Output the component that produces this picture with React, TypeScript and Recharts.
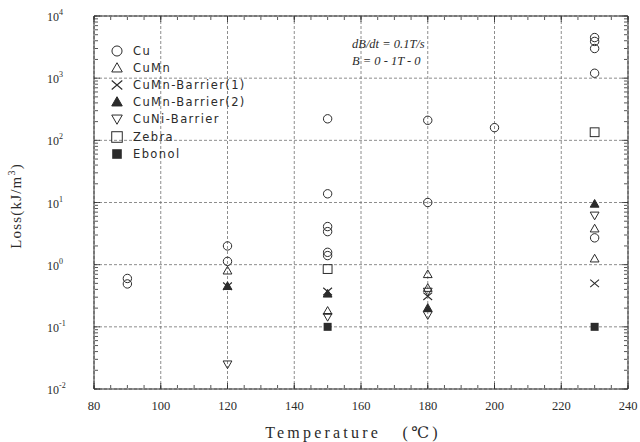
import React from "react";
import { CartesianGrid, Label, Legend, Scatter, ScatterChart, XAxis, YAxis } from "recharts";

const INK = "#2b2b2b";
const GRID = "#707070";
const SERIF = "'Liberation Serif', 'DejaVu Serif', serif";
const SANS = "'DejaVu Sans', 'Liberation Sans', sans-serif";

const X_TICKS = [80, 100, 120, 140, 160, 180, 200, 220, 240];
const Y_TICKS = [0.01, 0.1, 1, 10, 100, 1000, 10000];
const Y_EXPONENTS = ["-2", "-1", "0", "1", "2", "3", "4"];

// minor ticks: every 5 degrees, 2..9 inside each decade
const X_MINOR: number[] = [];
for (let t = 80; t <= 240; t += 5) X_MINOR.push(t);
const Y_MINOR: number[] = [];
Y_TICKS.slice(0, -1).forEach((d) => {
  for (let k = 2; k <= 9; k++) Y_MINOR.push(+(d * k).toPrecision(3));
});

const cu = [
  { x: 90, y: 0.6 },
  { x: 90, y: 0.49 },
  { x: 120, y: 2.0 },
  { x: 120, y: 1.13 },
  { x: 150, y: 222 },
  { x: 150, y: 13.8 },
  { x: 150, y: 4.1 },
  { x: 150, y: 3.4 },
  { x: 150, y: 1.58 },
  { x: 150, y: 1.4 },
  { x: 180, y: 210 },
  { x: 180, y: 10 },
  { x: 200, y: 160 },
  { x: 230, y: 4500 },
  { x: 230, y: 3900 },
  { x: 230, y: 3000 },
  { x: 230, y: 1200 },
  { x: 230, y: 2.7 },
];
const cuMn = [
  { x: 120, y: 0.8 },
  { x: 150, y: 0.18 },
  { x: 180, y: 0.7 },
  { x: 180, y: 0.42 },
  { x: 230, y: 3.8 },
  { x: 230, y: 1.25 },
];
const cuMnBarrier1 = [
  { x: 120, y: 0.45 },
  { x: 150, y: 0.37 },
  { x: 180, y: 0.31 },
  { x: 230, y: 0.5 },
];
const cuMnBarrier2 = [
  { x: 120, y: 0.45 },
  { x: 150, y: 0.34 },
  { x: 180, y: 0.2 },
  { x: 230, y: 9.5 },
];
const cuNiBarrier = [
  { x: 120, y: 0.025 },
  { x: 150, y: 0.145 },
  { x: 180, y: 0.37 },
  { x: 180, y: 0.155 },
  { x: 230, y: 6.2 },
];
const zebra = [
  { x: 150, y: 0.85 },
  { x: 230, y: 135 },
];
const ebonol = [
  { x: 150, y: 0.1 },
  { x: 230, y: 0.1 },
];

type Kind = "circle" | "tri" | "cross" | "triFill" | "triDown" | "square" | "squareFill";

const SERIES: { name: string; kind: Kind; data: { x: number; y: number }[] }[] = [
  { name: "Cu", kind: "circle", data: cu },
  { name: "CuMn", kind: "tri", data: cuMn },
  { name: "CuMn-Barrier(1)", kind: "cross", data: cuMnBarrier1 },
  { name: "CuMn-Barrier(2)", kind: "triFill", data: cuMnBarrier2 },
  { name: "CuNi-Barrier", kind: "triDown", data: cuNiBarrier },
  { name: "Zebra", kind: "square", data: zebra },
  { name: "Ebonol", kind: "squareFill", data: ebonol },
];

function Marker({ kind, cx, cy, s = 1 }: { kind: Kind; cx: number; cy: number; s?: number }) {
  const line = { stroke: INK, strokeWidth: 1, fill: "none" };
  const h = 4.4 * s;
  switch (kind) {
    case "circle":
      return <circle cx={cx} cy={cy} r={4.2 * s} {...line} />;
    case "tri":
      return <path d={`M${cx},${cy - h}L${cx + h},${cy + h * 0.75}L${cx - h},${cy + h * 0.75}Z`} {...line} />;
    case "triFill":
      return (
        <path
          d={`M${cx},${cy - h}L${cx + h},${cy + h * 0.75}L${cx - h},${cy + h * 0.75}Z`}
          fill={INK}
          stroke={INK}
        />
      );
    case "triDown":
      return <path d={`M${cx},${cy + h}L${cx + h},${cy - h * 0.75}L${cx - h},${cy - h * 0.75}Z`} {...line} />;
    case "cross":
      return (
        <path
          d={`M${cx - h},${cy - h * 0.85}L${cx + h},${cy + h * 0.85}M${cx + h},${cy - h * 0.85}L${cx - h},${cy + h * 0.85}`}
          {...line}
          strokeWidth={1.1}
        />
      );
    case "square":
      return <rect x={cx - h} y={cy - h} width={2 * h} height={2 * h} {...line} />;
    case "squareFill":
      return <rect x={cx - 4 * s} y={cy - 4 * s} width={8 * s} height={8 * s} fill={INK} />;
  }
  return null;
}

function YTick({ x, y, payload }: any) {
  const i = Y_TICKS.indexOf(payload.value);
  return (
    <text x={x - 39} y={y + 5} fill={INK} fontFamily={SERIF} fontSize={12}>
      10
      <tspan dy={-6} fontSize={8}>
        {Y_EXPONENTS[i]}
      </tspan>
    </text>
  );
}

function LegendBox() {
  return (
    <div style={{ display: "flex", flexDirection: "column" }}>
      {SERIES.map((s) => (
        <div key={s.name} style={{ height: 17.2, display: "flex", alignItems: "center" }}>
          <svg width={24} height={16} style={{ flex: "none" }}>
            <Marker kind={s.kind} cx={9} cy={8} s={1.2} />
          </svg>
          <span
            style={{
              fontFamily: SANS,
              fontSize: 11.5,
              letterSpacing: 1.4,
              color: INK,
              marginLeft: 1,
              whiteSpace: "nowrap",
            }}
          >
            {s.name}
          </span>
        </div>
      ))}
    </div>
  );
}

// mirrored 1px axes that only draw the inward tick marks and the top/right frame
const noLabel = () => <g />;
const frameAxes: { id: string; ticks: number[]; size: number }[] = [
  { id: "minor", ticks: X_MINOR, size: 3 },
  { id: "major", ticks: X_TICKS, size: 6 },
];
const frameAxesY: { id: string; ticks: number[]; size: number }[] = [
  { id: "minor", ticks: Y_MINOR, size: 3 },
  { id: "major", ticks: Y_TICKS, size: 6 },
];

export default function App() {
  const tickMark = { stroke: INK, strokeWidth: 0.8 };
  return (
    <div style={{ position: "fixed", left: 0, top: 0, width: 640, height: 442, background: "#fff" }}>
      <ScatterChart width={640} height={442} margin={{ top: 16, right: 12, bottom: 0, left: 0 }}>
        <CartesianGrid
          xAxisId="main"
          yAxisId="main"
          stroke={GRID}
          strokeDasharray="3 2"
          strokeWidth={0.8}
        />
        <XAxis
          xAxisId="main"
          dataKey="x"
          type="number"
          domain={[80, 240]}
          ticks={X_TICKS}
          interval={0}
          height={53}
          tickLine={false}
          tickMargin={6}
          axisLine={{ stroke: INK }}
          tick={{ fill: INK, fontFamily: SERIF, fontSize: 12.5 }}
          allowDataOverflow
        >
          <Label
            content={() => (
              <text
                x={353}
                y={438}
                textAnchor="middle"
                fill={INK}
                fontFamily={SERIF}
                fontSize={16}
                letterSpacing={3.2}
                style={{ whiteSpace: "pre" }}
              >
                {"Temperature   (℃)"}
              </text>
            )}
          />
        </XAxis>
        <YAxis
          yAxisId="main"
          dataKey="y"
          type="number"
          scale="log"
          domain={[0.01, 10000]}
          ticks={Y_TICKS}
          interval={0}
          width={94}
          tickLine={false}
          axisLine={{ stroke: INK }}
          tick={<YTick />}
          allowDataOverflow
        >
          <Label
            content={() => (
              <text
                x={21}
                y={206}
                transform="rotate(-90 21 206)"
                textAnchor="middle"
                fill={INK}
                fontFamily={SERIF}
                fontSize={15}
                letterSpacing={1.2}
              >
                Loss(kJ/m
                <tspan dy={-6} fontSize={10}>3</tspan>
                <tspan dy={6}>)</tspan>
              </text>
            )}
          />
        </YAxis>

        {frameAxes.map((a) => (
          <XAxis key={"b" + a.id} xAxisId={"b" + a.id} dataKey="x" type="number" domain={[80, 240]} ticks={a.ticks}
            interval={0} mirror height={1} tick={noLabel} tickSize={a.size} axisLine={false} tickLine={tickMark}
            allowDataOverflow />
        ))}
        {frameAxes.map((a) => (
          <XAxis key={"t" + a.id} xAxisId={"t" + a.id} orientation="top" dataKey="x" type="number" domain={[80, 240]}
            ticks={a.ticks} interval={0} mirror height={1} tick={noLabel} tickSize={a.size}
            axisLine={a.id === "major" ? { stroke: INK } : false} tickLine={tickMark} allowDataOverflow />
        ))}
        {frameAxesY.map((a) => (
          <YAxis key={"l" + a.id} yAxisId={"l" + a.id} dataKey="y" type="number" scale="log" domain={[0.01, 10000]}
            ticks={a.ticks} interval={0} mirror width={1} tick={noLabel} tickSize={a.size} axisLine={false}
            tickLine={tickMark} allowDataOverflow />
        ))}
        {frameAxesY.map((a) => (
          <YAxis key={"r" + a.id} yAxisId={"r" + a.id} orientation="right" dataKey="y" type="number" scale="log"
            domain={[0.01, 10000]} ticks={a.ticks} interval={0} mirror width={1} tick={noLabel} tickSize={a.size}
            axisLine={a.id === "major" ? { stroke: INK } : false} tickLine={tickMark} allowDataOverflow />
        ))}
        {/* invisible series so the frame axes get ticks */}
        {frameAxes.map((a) => (
          <Scatter key={"hb" + a.id} data={ebonol} xAxisId={"b" + a.id} yAxisId={"l" + a.id}
            isAnimationActive={false} legendType="none" shape={noLabel} />
        ))}
        {frameAxes.map((a) => (
          <Scatter key={"ht" + a.id} data={ebonol} xAxisId={"t" + a.id} yAxisId={"r" + a.id}
            isAnimationActive={false} legendType="none" shape={noLabel} />
        ))}

        <Legend
          layout="horizontal"
          verticalAlign="middle"
          align="center"
          content={() => <LegendBox />}
          wrapperStyle={{ top: 42, left: 108, width: "auto" }}
        />

        {SERIES.map((s) => (
          <Scatter
            key={s.name}
            name={s.name}
            data={s.data}
            xAxisId="main"
            yAxisId="main"
            isAnimationActive={false}
            shape={(p: any) => <Marker kind={s.kind} cx={p.cx} cy={p.cy} />}
          />
        ))}
      </ScatterChart>
      <div
        style={{
          position: "absolute",
          left: 352,
          top: 36,
          fontFamily: SERIF,
          fontStyle: "italic",
          fontSize: 12.5,
          lineHeight: "17px",
          color: INK,
          whiteSpace: "pre",
        }}
      >
        <div>dB/dt = 0.1T/s</div>
        <div>B = 0 - 1T - 0</div>
      </div>
    </div>
  );
}
